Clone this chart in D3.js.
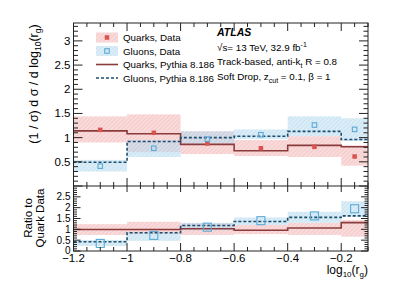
<!DOCTYPE html>
<html><head><meta charset="utf-8">
<script src="https://cdn.jsdelivr.net/npm/d3@7"></script>
<style>
body{margin:0;background:#fff;}
svg{font-family:"Liberation Sans",Arial,sans-serif;}
</style></head>
<body><svg id="c" width="399" height="286"></svg>
<script>
// ---- data ----
const binEdges = [-1.2, -1.0, -0.8, -0.6, -0.4, -0.2, -0.1];
const binCenters = [-1.1, -0.9, -0.7, -0.5, -0.3, -0.15];
const quarkData = [1.16, 1.10, 0.88, 0.78, 0.81, 0.61];
const quarkLo   = [0.90, 0.70, 0.66, 0.62, 0.60, 0.42];
const quarkHi   = [1.44, 1.48, 1.13, 0.95, 1.03, 0.84];
const gluonData = [0.41, 0.78, 0.97, 1.06, 1.26, 1.17];
const gluonLo   = [0.30, 0.60, 0.88, 0.97, 1.03, 0.93];
const gluonHi   = [0.54, 0.95, 1.13, 1.17, 1.44, 1.40];
const quarkMC   = [1.14, 1.08, 0.86, 0.73, 0.84, 0.81];
const gluonMC   = [0.49, 0.92, 1.00, 1.03, 1.13, 0.96];
// ratio panel (to quark data)
const rQuarkLo  = [0.74, 0.78, 0.74, 0.78, 0.74, 0.66];
const rQuarkHi  = [1.24, 1.35, 1.28, 1.20, 1.30, 1.43];
const rGluonLo  = [0.23, 0.47, 0.95, 1.20, 1.30, 1.58];
const rGluonHi  = [0.51, 0.84, 1.30, 1.55, 1.81, 2.30];
const rQuarkMC  = [0.99, 0.99, 1.03, 0.96, 1.06, 1.31];
const rGluonMC  = [0.43, 0.84, 1.18, 1.36, 1.55, 1.62];
const rGluonData= [0.35, 0.72, 1.10, 1.40, 1.62, 1.95];
const xTicks = [-1.2, -1.0, -0.8, -0.6, -0.4, -0.2];
const yTicksTop = [0.5, 1, 1.5, 2, 2.5, 3];
const yTicksBot = [0, 0.5, 1, 1.5, 2, 2.5];

const svg = d3.select("#c");
const L = 73.5, R = 368, T1 = 23, B1 = 186, B2 = 251;
const x = d3.scaleLinear().domain([-1.2, -0.1]).range([L, R]);
const yT = d3.scaleLinear().domain([0, 3.37]).range([B1, T1]);
const yB = d3.scaleLinear().domain([0, 3.0]).range([B2, B1]);

const defs = svg.append("defs");
function hatch(id, bg, fg){
  const p = defs.append("pattern").attr("id", id).attr("patternUnits","userSpaceOnUse")
    .attr("width",3).attr("height",3).attr("patternTransform","rotate(45)");
  p.append("rect").attr("width",3).attr("height",3).attr("fill",bg);
  p.append("line").attr("x1",0).attr("y1",0).attr("x2",0).attr("y2",3).attr("stroke",fg).attr("stroke-width",1);
}
hatch("hR","rgba(244,190,190,0.55)","rgba(225,120,120,0.35)");
hatch("hB","rgba(190,222,240,0.55)","rgba(120,180,220,0.35)");

const redM = "#d9534f", blueM = "#5aaad6", qLine = "#8a3c3c", gLine = "#1e4d6b";

function bands(g, y, lo, hi, fill){
  g.selectAll(null).data(lo).enter().append("rect")
    .attr("x",(d,i)=>x(binEdges[i])).attr("width",(d,i)=>x(binEdges[i+1])-x(binEdges[i]))
    .attr("y",(d,i)=>y(hi[i])).attr("height",(d,i)=>y(lo[i])-y(hi[i]))
    .attr("fill",fill);
}
function step(g, y, vals, color, dash){
  const pts = binEdges.map((e,i)=>[e, vals[Math.min(i, vals.length-1)]]);
  g.append("path").attr("d", d3.line().x(d=>x(d[0])).y(d=>y(d[1])).curve(d3.curveStepAfter)(pts))
    .attr("fill","none").attr("stroke",color).attr("stroke-width",1.6)
    .attr("stroke-dasharray", dash ? "3,2" : null);
}
function squares(g, y, vals, s, filled, color){
  g.selectAll(null).data(vals).enter().append("rect")
    .attr("x",(d,i)=>x(binCenters[i])-s/2).attr("y",d=>y(d)-s/2)
    .attr("width",s).attr("height",s)
    .attr("fill",filled?color:"none").attr("stroke",color).attr("stroke-width",filled?0:1.1);
}

// top panel
const gT = svg.append("g");
bands(gT, yT, quarkLo, quarkHi, "url(#hR)");
bands(gT, yT, gluonLo, gluonHi, "url(#hB)");
step(gT, yT, quarkMC, qLine, false);
step(gT, yT, gluonMC, gLine, true);
squares(gT, yT, quarkData, 4.5, true, redM);
squares(gT, yT, gluonData, 4.5, false, blueM);

// bottom panel
const gB = svg.append("g");
bands(gB, yB, rQuarkLo, rQuarkHi, "url(#hR)");
bands(gB, yB, rGluonLo, rGluonHi, "url(#hB)");
step(gB, yB, rQuarkMC, qLine, false);
step(gB, yB, rGluonMC, gLine, true);
squares(gB, yB, rGluonData, 8, false, blueM);

// frames and ticks
const ax = svg.append("g").attr("stroke","#222").attr("fill","none");
ax.append("rect").attr("x",L).attr("y",T1).attr("width",R-L).attr("height",B2-T1).attr("stroke-width",1);
ax.append("line").attr("x1",L).attr("x2",R).attr("y1",B1).attr("y2",B1).attr("stroke-width",1);

function xTickMarks(y0, dir, majLen, minLen){
  const minors = d3.range(-1.2, -0.099, 0.05).map(v=>+v.toFixed(2));
  minors.forEach(v=>{
    const major = Math.abs(Math.round(v/0.2)*0.2 - v) < 1e-6;
    const len = major ? majLen : minLen;
    ax.append("line").attr("x1",x(v)).attr("x2",x(v)).attr("y1",y0).attr("y2",y0+dir*len).attr("stroke-width",1);
  });
}
xTickMarks(T1, 1, 8, 4);
xTickMarks(B1, -1, 8, 4);
xTickMarks(B1, 1, 6, 3);
xTickMarks(B2, -1, 8, 4);

function yTickMarks(y, lo, hi, majLen, minLen){
  const vals = d3.range(Math.round(lo*10), Math.round(hi*10)+1).map(v=>v/10);
  vals.forEach(v=>{
    const major = (Math.round(v*10) % 5) === 0;
    const len = major ? majLen : minLen;
    if (y(v) < T1 - 0.1) return;
    ax.append("line").attr("x1",L).attr("x2",L+len).attr("y1",y(v)).attr("y2",y(v)).attr("stroke-width",1);
    ax.append("line").attr("x1",R).attr("x2",R-len).attr("y1",y(v)).attr("y2",y(v)).attr("stroke-width",1);
  });
}
yTickMarks(yT, 0, 3.3, 9, 4.5);
yTickMarks(yB, 0, 2.9, 7, 3.5);

// tick labels
const fmt = v => (v<0?"\u2212":"") + String(Math.abs(v));
svg.append("g").selectAll("text").data(yTicksTop).enter().append("text")
  .attr("x",L-3).attr("y",d=>yT(d)+4).attr("text-anchor","end").attr("font-size",11.5).text(d=>d);
svg.append("g").selectAll("text").data(yTicksBot).enter().append("text")
  .attr("x",L-3).attr("y",d=>yB(d)+(d===0?2.5:3.5)).attr("text-anchor","end").attr("font-size",10).text(d=>d);
svg.append("g").selectAll("text").data(xTicks).enter().append("text")
  .attr("x",d=>x(d)).attr("y",B2+11).attr("text-anchor","middle").attr("font-size",11.5)
  .text(d=>fmt(+d.toFixed(1)));

// axis titles
const xt = svg.append("text").attr("x",R).attr("y",B2+23).attr("text-anchor","end").attr("font-size",12);
xt.append("tspan").text("log");
xt.append("tspan").attr("font-size",8).attr("dy",3).text("10");
xt.append("tspan").attr("dy",-3).text("(r");
xt.append("tspan").attr("font-size",8).attr("dy",3).text("g");
xt.append("tspan").attr("dy",-3).text(")");

const yt = svg.append("text").attr("transform","translate(38,84) rotate(-90)").attr("text-anchor","middle").attr("font-size",12.5);
yt.append("tspan").text("(1 / \u03c3) d \u03c3 / d log");
yt.append("tspan").attr("font-size",8.5).attr("dy",3).text("10");
yt.append("tspan").attr("dy",-3).text("(r");
yt.append("tspan").attr("font-size",8.5).attr("dy",3).text("g");
yt.append("tspan").attr("dy",-3).text(")");

svg.append("text").attr("transform","translate(32,218) rotate(-90)").attr("text-anchor","middle").attr("font-size",11.5).text("Ratio to");
svg.append("text").attr("transform","translate(44,218) rotate(-90)").attr("text-anchor","middle").attr("font-size",11.5).text("Quark Data");

// legend
const legLabels = ["Quarks, Data","Gluons, Data","Quarks, Pythia 8.186","Gluons, Pythia 8.186"];
const legY = [37.5, 51, 64.5, 78];
const lg = svg.append("g");
const bx0 = 96, bx1 = 118;
lg.append("rect").attr("x",bx0).attr("y",legY[0]-5).attr("width",bx1-bx0).attr("height",10).attr("fill","url(#hR)");
lg.append("rect").attr("x",(bx0+bx1)/2-2.25).attr("y",legY[0]-2.25).attr("width",4.5).attr("height",4.5).attr("fill",redM);
lg.append("rect").attr("x",bx0).attr("y",legY[1]-5).attr("width",bx1-bx0).attr("height",10).attr("fill","url(#hB)");
lg.append("rect").attr("x",(bx0+bx1)/2-2.25).attr("y",legY[1]-2.25).attr("width",4.5).attr("height",4.5).attr("fill","none").attr("stroke",blueM).attr("stroke-width",1.1);
lg.append("line").attr("x1",bx0).attr("x2",bx1).attr("y1",legY[2]).attr("y2",legY[2]).attr("stroke",qLine).attr("stroke-width",1.6);
lg.append("line").attr("x1",bx0).attr("x2",bx1).attr("y1",legY[3]).attr("y2",legY[3]).attr("stroke",gLine).attr("stroke-width",1.6).attr("stroke-dasharray","3,2");
lg.selectAll("text").data(legLabels).enter().append("text")
  .attr("x",123).attr("y",(d,i)=>legY[i]+3.5).attr("font-size",9.8).text(d=>d);

// ATLAS labels
const tx = 217;
svg.append("text").attr("x",tx).attr("y",36).attr("font-size",10.5).attr("font-weight","bold").attr("font-style","italic").text("ATLAS");
const t1 = svg.append("text").attr("x",tx).attr("y",50.5).attr("font-size",9.8);
t1.append("tspan").text("\u221as= 13 TeV, 32.9 fb");
t1.append("tspan").attr("font-size",7).attr("dy",-4).text("-1");
const t2 = svg.append("text").attr("x",tx).attr("y",65).attr("font-size",9.8);
t2.append("tspan").text("Track-based, anti-k");
t2.append("tspan").attr("font-size",7).attr("dy",3).text("t");
t2.append("tspan").attr("dy",-3).text(" R = 0.8");
const t3 = svg.append("text").attr("x",tx).attr("y",80).attr("font-size",9.8);
t3.append("tspan").text("Soft Drop, z");
t3.append("tspan").attr("font-size",7).attr("dy",3).text("cut");
t3.append("tspan").attr("dy",-3).text(" = 0.1, \u03b2 = 1");
</script></body></html>
